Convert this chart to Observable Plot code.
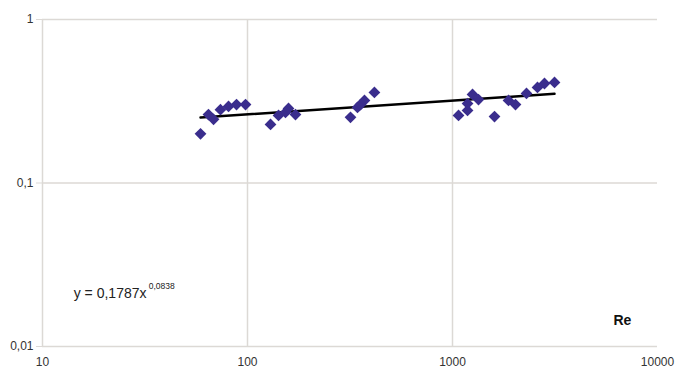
<!DOCTYPE html>
<html>
<head>
<meta charset="utf-8">
<script src="https://cdn.jsdelivr.net/npm/d3@7"></script>
<script src="https://cdn.jsdelivr.net/npm/@observablehq/plot@0.6"></script>
<style>
  html, body { margin: 0; padding: 0; background: #fff; }
  #chart { width: 675px; height: 370px; }
</style>
</head>
<body>
<div id="chart"></div>
<script>
// Measured Reynolds numbers and the corresponding coefficient
const re = [59, 64.5, 68.3, 73.8, 80.8, 88.4, 97.8,
            129.5, 141.7, 153.2, 158.5, 171.4,
            318, 344, 356, 372, 416,
            1070, 1184, 1184, 1252, 1339, 1603, 1876, 2029, 2296, 2598, 2810, 3145];
const coef = [0.20, 0.262, 0.245, 0.281, 0.294, 0.302, 0.302,
              0.228, 0.259, 0.27, 0.286, 0.262,
              0.252, 0.29, 0.302, 0.32, 0.358,
              0.259, 0.278, 0.306, 0.348, 0.324, 0.255, 0.32, 0.302, 0.353, 0.384, 0.406, 0.412];

// Power-law fit y = a·x^b
const fitA = 0.1787;
const fitB = 0.0838;

const xTicks = [10, 100, 1000, 10000];
const yTicks = [0.01, 0.1, 1];
const yTickLabels = ["0,01", "0,1", "1"];

const points = re.map((x, i) => ({x, y: coef[i]}));
const xMin = d3.min(re), xMax = d3.max(re);
const fit = [xMin, xMax].map(x => ({x, y: fitA * Math.pow(x, fitB)}));

const fmtNum = v => String(v).replace(".", ",");
const grid = "#dcd9d5";
const font = "Liberation Sans, Arial, sans-serif";

const chart = Plot.plot({
  width: 675,
  height: 370,
  marginLeft: 42,
  marginRight: 18,
  marginTop: 19,
  marginBottom: 24,
  style: {fontFamily: font, background: "#fff"},
  x: {type: "log", domain: [10, 10000]},
  y: {type: "log", domain: [0.01, 1]},
  marks: [
    Plot.ruleX(xTicks.slice(0, 3), {stroke: grid, strokeWidth: 1.5}),
    Plot.ruleY(yTicks, {stroke: grid, strokeWidth: 1.5}),
    Plot.axisX(xTicks, {
      tickSize: 0, tickPadding: 11, fontSize: 12, fill: "#333",
      tickFormat: d => String(d), label: null
    }),
    Plot.axisY(yTicks, {
      tickSize: 6, tickPadding: 3, fontSize: 12, fill: "#333", stroke: grid,
      tickFormat: d => yTickLabels[yTicks.indexOf(d)], label: null
    }),
    Plot.line(fit, {x: "x", y: "y", stroke: "#000", strokeWidth: 2.5}),
    Plot.dot(points, {x: "x", y: "y", symbol: "diamond2", r: 5.3, fill: "#3a2d8d", stroke: "none"}),
    // Fit equation, with the exponent set as a superscript
    Plot.text([{x: 14.2, y: 0.0211}], {
      x: "x", y: "y", text: () => `y = ${fmtNum(fitA)}x`,
      textAnchor: "start", fontSize: 14, fill: "#222"
    }),
    Plot.text([{x: 14.2, y: 0.0211}], {
      x: "x", y: "y", text: () => fmtNum(fitB),
      textAnchor: "start", dx: 75, dy: -7, fontSize: 8.5, fill: "#222"
    }),
    Plot.text([{x: 6745, y: 0.01442}], {
      x: "x", y: "y", text: () => "Re",
      fontSize: 14, fontWeight: "bold", fill: "#111"
    })
  ]
});

document.getElementById("chart").appendChild(chart);
</script>
</body>
</html>
